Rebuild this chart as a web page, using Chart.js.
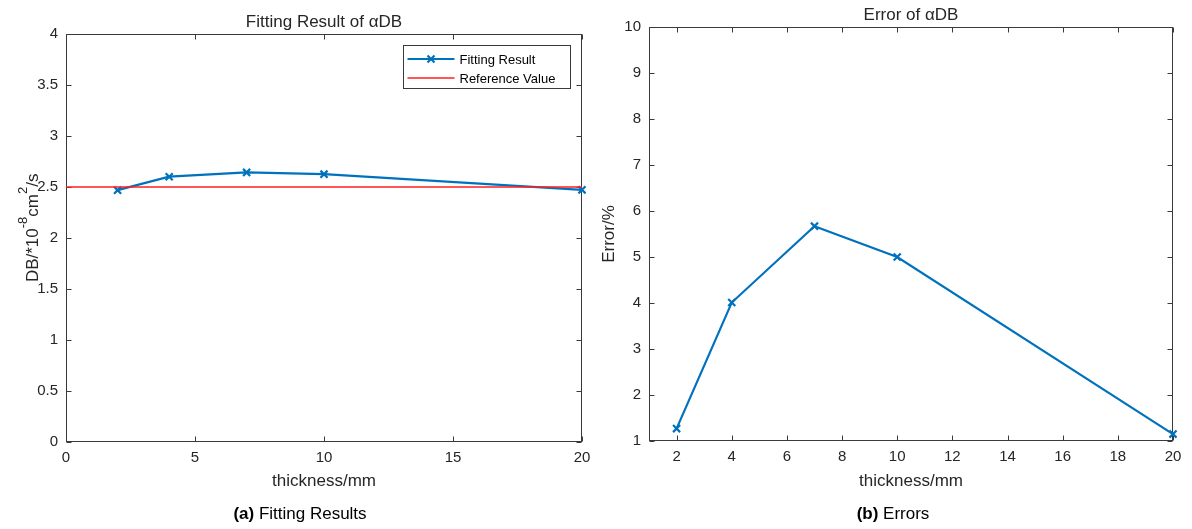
<!DOCTYPE html>
<html>
<head>
<meta charset="utf-8">
<title>Fitting Result of αDB</title>
<script src="https://cdn.jsdelivr.net/npm/chart.js@4/dist/chart.umd.min.js"></script>
<style>
  html, body { margin: 0; padding: 0; background: #fff; }
  body { width: 1192px; height: 529px; position: relative; overflow: hidden;
         font-family: 'Liberation Sans', Arial, sans-serif; }
  canvas { position: absolute; top: 0; }
  #chartFit { left: 0; }
  #chartErr { left: 596px; }
  .caption { position: absolute; top: 504px; font-size: 17px; line-height: 20px;
             color: #000; text-align: center; }
  #capA { left: 0; width: 600px; }
  #capB { left: 590px; width: 606px; }
</style>
</head>
<body>
<canvas id="chartFit" width="596" height="529"></canvas>
<canvas id="chartErr" width="596" height="529"></canvas>
<div class="caption" id="capA"><b>(a)</b> Fitting Results</div>
<div class="caption" id="capB"><b>(b)</b> Errors</div>

<script>
// sample thickness (mm) and the fitted diffusion coefficient / its error
const thickness   = [2, 4, 7, 10, 20];
const fittedDB    = [2.468, 2.600, 2.642, 2.625, 2.471];
const referenceDB = 2.5;
const errorPct    = [1.27, 4.01, 5.67, 5.00, 1.15];

const refRangeX   = [0, 20];
const xTicksFit   = [0, 5, 10, 15, 20];
const yTicksFit   = [0, 0.5, 1, 1.5, 2, 2.5, 3, 3.5, 4];
const xTicksErr   = [2, 4, 6, 8, 10, 12, 14, 16, 18, 20];
const yTicksErr   = [1, 2, 3, 4, 5, 6, 7, 8, 9, 10];

const BLUE       = '#0072BD';
const RED        = '#FF1F1F';
const AXIS_COLOR = '#3a3a3a';
const TEXT_COLOR = '#262626';
const TICK_LEN   = 5;

Chart.defaults.font.family = "'Liberation Sans', Arial, sans-serif";
Chart.defaults.color = TEXT_COLOR;

// draw the axes box with inward ticks on all four sides
const axesBox = {
  id: 'axesBox',
  beforeDatasetsDraw(chart) {
    const { ctx, chartArea: a, scales: { x, y } } = chart;
    const L = Math.round(a.left) + 0.5, R = Math.round(a.right) - 0.5;
    const T = Math.round(a.top) + 0.5,  B = Math.round(a.bottom) - 0.5;
    ctx.save();
    ctx.strokeStyle = AXIS_COLOR;
    ctx.lineWidth = 1;
    ctx.strokeRect(L, T, R - L, B - T);
    ctx.beginPath();
    x.ticks.forEach(t => {
      const px = Math.round(x.getPixelForValue(t.value)) + 0.5;
      ctx.moveTo(px, B); ctx.lineTo(px, B - TICK_LEN);
      ctx.moveTo(px, T); ctx.lineTo(px, T + TICK_LEN);
    });
    y.ticks.forEach(t => {
      const py = Math.round(y.getPixelForValue(t.value)) + 0.5;
      ctx.moveTo(L, py); ctx.lineTo(L + TICK_LEN, py);
      ctx.moveTo(R, py); ctx.lineTo(R - TICK_LEN, py);
    });
    ctx.stroke();
    ctx.restore();
  }
};

function drawCross(ctx, cx, cy, r) {
  ctx.beginPath();
  ctx.moveTo(cx - r, cy - r); ctx.lineTo(cx + r, cy + r);
  ctx.moveTo(cx - r, cy + r); ctx.lineTo(cx + r, cy - r);
  ctx.stroke();
}

// boxed legend in the upper right corner of the axes
const boxLegend = {
  id: 'boxLegend',
  afterDraw(chart) {
    const { ctx, chartArea: a } = chart;
    const w = 167, h = 43;
    const x0 = Math.round(a.right - 12 - w) + 0.5, y0 = Math.round(a.top + 11) + 0.5;
    ctx.save();
    ctx.fillStyle = '#fff';
    ctx.fillRect(x0, y0, w, h);
    ctx.strokeStyle = AXIS_COLOR;
    ctx.lineWidth = 1;
    ctx.strokeRect(x0, y0, w, h);
    ctx.font = "13px 'Liberation Sans', Arial, sans-serif";
    ctx.textBaseline = 'middle';
    ctx.fillStyle = '#000';
    chart.data.datasets.forEach((ds, i) => {
      const cy = y0 + 13.5 + i * 19;
      ctx.strokeStyle = ds.borderColor;
      ctx.lineWidth = ds.borderWidth;
      ctx.beginPath();
      ctx.moveTo(x0 + 4, cy); ctx.lineTo(x0 + 51, cy);
      ctx.stroke();
      if (ds.pointRadius) {
        ctx.lineWidth = ds.pointBorderWidth;
        drawCross(ctx, x0 + 27.5, cy, 3.5);
      }
      ctx.fillText(ds.label, x0 + 56, cy + 1);
    });
    ctx.restore();
  }
};

// y axis title with superscripts: DB/*10^-8 cm^2/s
const yLabelParts = [['DB/*10', false], ['-8', true], ['cm', false], ['2', true], ['/s', false]];
const superLabel = {
  id: 'superLabel',
  afterDraw(chart) {
    const { ctx, chartArea: a } = chart;
    const big = "17px 'Liberation Sans', Arial, sans-serif";
    const small = "13px 'Liberation Sans', Arial, sans-serif";
    ctx.save();
    ctx.fillStyle = TEXT_COLOR;
    ctx.textBaseline = 'alphabetic';
    let total = 0;
    yLabelParts.forEach(([s, sup]) => { ctx.font = sup ? small : big; total += ctx.measureText(s).width; });
    ctx.translate(38, (a.top + a.bottom) / 2 - 10);
    ctx.rotate(-Math.PI / 2);
    let cx = -total / 2;
    yLabelParts.forEach(([s, sup]) => {
      ctx.font = sup ? small : big;
      ctx.fillText(s, cx, sup ? -11 : 0);
      cx += ctx.measureText(s).width;
    });
    ctx.restore();
  }
};

function fixed(size) {
  return scale => {
    if (scale.isHorizontal()) scale.height = size; else scale.width = size;
    scale.paddingLeft = scale.paddingRight = scale.paddingTop = scale.paddingBottom = 0;
  };
}
function useTicks(values) {
  return scale => { scale.ticks = values.map(v => ({ value: v })); };
}
const tickFont = { size: 15 };
const label = v => String(v);

new Chart(document.getElementById('chartFit'), {
  type: 'line',
  data: {
    datasets: [{
      label: 'Fitting Result',
      data: thickness.map((t, i) => ({ x: t, y: fittedDB[i] })),
      borderColor: BLUE,
      backgroundColor: BLUE,
      borderWidth: 2.2,
      pointStyle: 'crossRot',
      pointRadius: 5,
      pointBorderWidth: 2.2,
      tension: 0,
      clip: false,
      order: 1
    }, {
      label: 'Reference Value',
      data: refRangeX.map(x => ({ x, y: referenceDB })),
      borderColor: RED,
      backgroundColor: RED,
      borderWidth: 1.5,
      pointRadius: 0,
      clip: false,
      order: 0
    }]
  },
  options: {
    responsive: false,
    animation: false,
    devicePixelRatio: 1,
    layout: { padding: { top: 0, right: 14, bottom: 0, left: 0 } },
    plugins: {
      legend: { display: false },
      tooltip: { enabled: false },
      title: {
        display: true,
        fullSize: false,
        text: 'Fitting Result of αDB',
        color: TEXT_COLOR,
        font: { size: 17, weight: 'normal' },
        padding: { top: 12.3, bottom: 1.3 }
      }
    },
    scales: {
      x: {
        type: 'linear', min: 0, max: 20,
        grid: { display: false, drawTicks: false },
        border: { display: false },
        ticks: { font: tickFont, padding: 7, callback: label },
        afterBuildTicks: useTicks(xTicksFit),
        afterFit: fixed(87.3),
        title: { display: true, text: 'thickness/mm', font: { size: 17 }, padding: { top: 0, bottom: 37.3 } }
      },
      y: {
        type: 'linear', min: 0, max: 4,
        grid: { display: false, drawTicks: false },
        border: { display: false },
        ticks: { font: tickFont, padding: 8, callback: label },
        afterBuildTicks: useTicks(yTicksFit),
        afterFit: fixed(66)
      }
    }
  },
  plugins: [axesBox, boxLegend, superLabel]
});

new Chart(document.getElementById('chartErr'), {
  type: 'line',
  data: {
    datasets: [{
      label: 'Error',
      data: thickness.map((t, i) => ({ x: t, y: errorPct[i] })),
      borderColor: BLUE,
      backgroundColor: BLUE,
      borderWidth: 2.2,
      pointStyle: 'crossRot',
      pointRadius: 5,
      pointBorderWidth: 2.2,
      tension: 0,
      clip: false
    }]
  },
  options: {
    responsive: false,
    animation: false,
    devicePixelRatio: 1,
    layout: { padding: { top: 0, right: 19, bottom: 0, left: 0 } },
    plugins: {
      legend: { display: false },
      tooltip: { enabled: false },
      title: {
        display: true,
        fullSize: false,
        text: 'Error of αDB',
        color: TEXT_COLOR,
        font: { size: 17, weight: 'normal' },
        padding: { top: 5.3, bottom: 1.3 }
      }
    },
    scales: {
      x: {
        type: 'linear', min: 1, max: 20,
        grid: { display: false, drawTicks: false },
        border: { display: false },
        ticks: { font: tickFont, padding: 7, callback: label },
        afterBuildTicks: useTicks(xTicksErr),
        afterFit: fixed(88),
        title: { display: true, text: 'thickness/mm', font: { size: 17 }, padding: { top: 0, bottom: 37.3 } }
      },
      y: {
        type: 'linear', min: 1, max: 10,
        grid: { display: false, drawTicks: false },
        border: { display: false },
        ticks: { font: tickFont, padding: 8, callback: label },
        afterBuildTicks: useTicks(yTicksErr),
        afterFit: fixed(53),
        title: { display: true, text: 'Error/%', font: { size: 17 }, padding: { top: 2.8, bottom: 0 } }
      }
    }
  },
  plugins: [axesBox]
});
</script>
</body>
</html>
